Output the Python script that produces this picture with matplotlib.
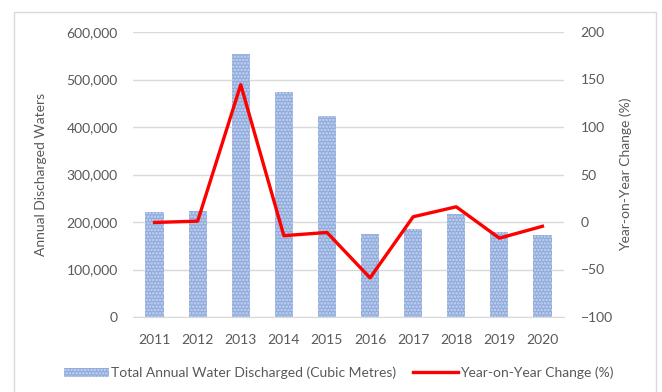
# 组合图：柱形图+折线图
import matplotlib.pyplot as plt
from matplotlib.patches import Rectangle
from matplotlib.ticker import FuncFormatter, MultipleLocator

plt.rcParams['font.family'] = ['Lato', 'DejaVu Sans']
plt.rcParams['hatch.linewidth'] = 1.2

years = ['2011', '2012', '2013', '2014', '2015', '2016', '2017', '2018', '2019', '2020']
discharged = [222000, 224000, 554000, 474000, 424000, 175000, 185000, 216000, 179000, 172000]
yoy_change = [-0.5, 0.9, 144.5, -14.4, -11.0, -58.8, 5.5, 16.0, -17.0, -4.5]

text_grey = '#595959'
grid_grey = '#d9d9d9'

fig = plt.figure(figsize=(6.62, 3.92), dpi=100)
ax = fig.add_axes([133 / 662, 1 - 317 / 392, (564 - 133) / 662, (317 - 32) / 392])
ax2 = ax.twinx()

# 图表外框
fig.patches.append(Rectangle((14 / 662, -0.05), (656 - 14) / 662, 1 - 12 / 392 + 0.05,
                             transform=fig.transFigure, fill=False,
                             edgecolor='#d9d9d9', linewidth=1))

x = range(len(years))
bars = ax.bar(x, discharged, width=0.42, color='#8FAADC', edgecolor='#c9d6f0',
              hatch='.....', linewidth=0, zorder=2,
              label='Total Annual Water Discharged (Cubic Metres)')
line, = ax2.plot(x, yoy_change, color='#ff0000', linewidth=2.4, zorder=3,
                 label='Year-on-Year Change (%)')

ax.set_xlim(-0.5, len(years) - 0.5)
ax.set_ylim(0, 600000)
ax.yaxis.set_major_locator(MultipleLocator(100000))
ax.yaxis.set_major_formatter(FuncFormatter(lambda v, p: f'{v:,.0f}'))
ax2.set_ylim(-100, 200)
ax2.yaxis.set_major_locator(MultipleLocator(50))

ax.set_xticks(list(x))
ax.set_xticklabels(years)
ax.grid(axis='y', color=grid_grey, linewidth=1, zorder=0)
ax.set_axisbelow(True)

for a in (ax, ax2):
    for s in a.spines.values():
        s.set_visible(False)
    a.tick_params(length=0, colors=text_grey, labelsize=10)
ax.spines['bottom'].set_visible(True)
ax.spines['bottom'].set_color(grid_grey)
ax.tick_params(axis='y', pad=11)
ax.tick_params(axis='x', pad=12)
ax2.tick_params(axis='y', pad=12)

ax.set_ylabel('Annual Discharged Waters', color=text_grey, fontsize=10, labelpad=14)
ax2.set_ylabel('Year-on-Year Change (%)', color=text_grey, fontsize=10, labelpad=5)

fig.legend(handles=[bars, line], loc='center', bbox_to_anchor=(339 / 662, 1 - 373 / 392),
           ncol=2, frameon=False, fontsize=10, labelcolor=text_grey,
           handlelength=3.2, handletextpad=0.2, columnspacing=1.2)

fig.savefig('out.png', dpi=100)
